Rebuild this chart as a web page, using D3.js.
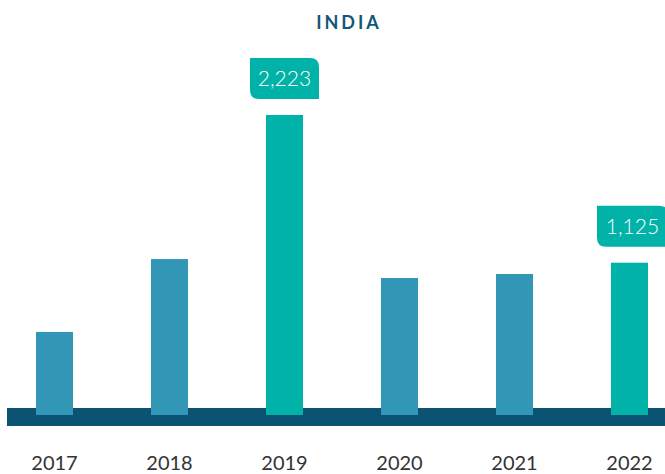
<!DOCTYPE html>
<html><head><meta charset="utf-8">
<script src="https://cdn.jsdelivr.net/npm/d3@7"></script>
<style>body{margin:0;background:#fff;}svg{display:block;}</style>
</head><body>
<svg id="c" width="665" height="474"></svg>
<script>
const years = ["2017","2018","2019","2020","2021","2022"];
const values = [610, 1152, 2223, 1011, 1041, 1125];
const highlighted = ["2019","2022"];
const title = "INDIA";

const svg = d3.select("#c");
const x = d3.scaleBand().domain(years).range([-3, 687]).paddingInner(0.678).paddingOuter(0.339);
const y = d3.scaleLinear().domain([0, 2223]).range([414, 115]);

svg.append("text").attr("x", 349).attr("y", 29).attr("text-anchor", "middle")
  .attr("font-family", "Lato, 'Open Sans', sans-serif").attr("font-weight", 700)
  .attr("font-size", 18).attr("letter-spacing", 3).attr("fill", "#125777").text(title);

// baseline band
svg.append("rect").attr("x", 7).attr("y", 408).attr("width", 658).attr("height", 18).attr("fill", "#0b5273");

svg.selectAll("rect.bar").data(years).join("rect").attr("class","bar")
  .attr("x", d => x(d)).attr("width", x.bandwidth())
  .attr("y", (d,i) => y(values[i])).attr("height", (d,i) => y(0) - y(values[i]) + 1)
  .attr("fill", d => highlighted.includes(d) ? "#00b2a8" : "#3296b7");

// callouts
const fmt = d3.format(",");
years.forEach((d,i) => {
  if (!highlighted.includes(d)) return;
  const w = d === "2022" ? 71 : 69, h = 41, r = 9;
  const cx = x(d) + x.bandwidth()/2 + (d === "2022" ? 3 : 0);
  const top = y(values[i]) - 16 - h;
  const x0 = cx - w/2, x1 = cx + w/2, y0 = top, y1 = top + h;
  const p = `M${x0},${y0} L${x1-r},${y0} Q${x1},${y0} ${x1},${y0+r} L${x1},${y1} L${x0+r},${y1} Q${x0},${y1} ${x0},${y1-r} Z`;
  svg.append("path").attr("d", p).attr("fill", "#00b2a8");
  svg.append("text").attr("x", cx).attr("y", y0 + h/2 + 7.5).attr("text-anchor", "middle")
    .attr("font-family", "Lato, 'Open Sans', sans-serif").attr("font-weight", 300)
    .attr("font-size", 21).attr("fill", "#fff").text(fmt(values[i]));
});

const xAxis = d3.axisBottom(x).tickSize(0).tickPadding(0);
const ax = svg.append("g").attr("transform", "translate(0,452)").call(xAxis);
ax.select(".domain").remove();
ax.selectAll("text").attr("font-family", "Lato, 'Open Sans', sans-serif").attr("font-size", 20)
  .attr("fill", "#333").attr("dy", "0.9em");
</script>
</body></html>
